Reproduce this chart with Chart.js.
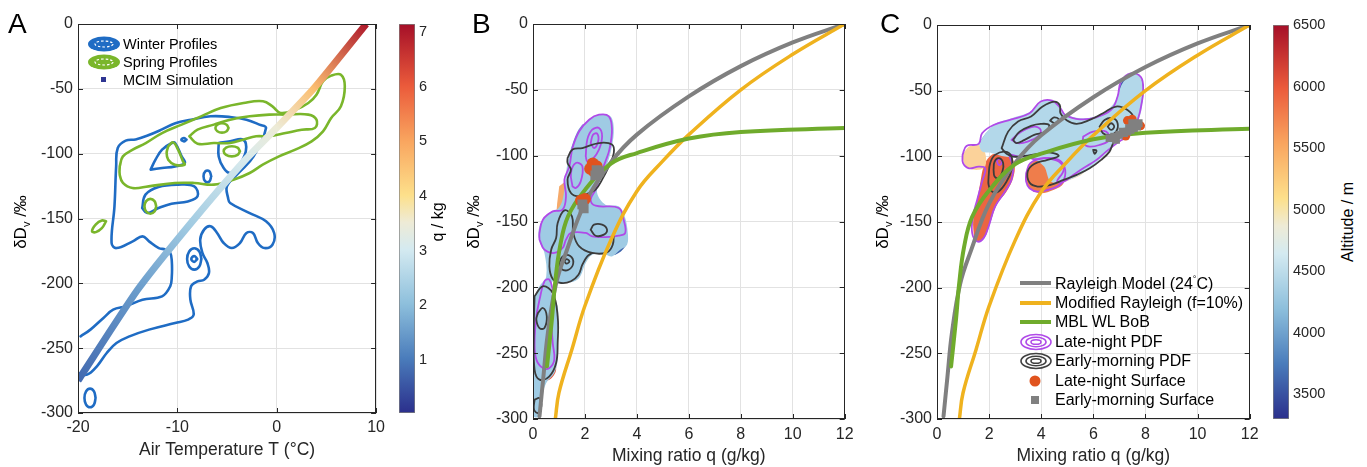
<!DOCTYPE html>
<html>
<head>
<meta charset="utf-8">
<script src="https://cdn.jsdelivr.net/npm/chart.js@4.4.1/dist/chart.umd.min.js"></script>
<style>
  body { margin: 0; width: 1367px; height: 467px; position: relative; overflow: hidden; background: #fff;
         font-family: "Liberation Sans", Arial, sans-serif; color: #000; }
  canvas { position: absolute; top: 0; }
  .lbl { position: absolute; white-space: nowrap; line-height: 1; }
  .rot { transform: translate(-50%, -50%) rotate(-90deg); }
  .letter { position: absolute; font-size: 28px; line-height: 1; }
  .leg { position: absolute; display: flex; align-items: center; white-space: nowrap; line-height: 1; }
  .leg svg { flex: none; }
  sub { font-size: 0.65em; vertical-align: -0.3em; }
</style>
</head>
<body>
<canvas id="chartA" style="left:0" width="390" height="467"></canvas>
<canvas id="cbarA" style="left:395px" width="45" height="467"></canvas>
<canvas id="chartB" style="left:440px" width="420" height="467"></canvas>
<canvas id="chartC" style="left:880px" width="385" height="467"></canvas>
<canvas id="cbarC" style="left:1265px" width="70" height="467"></canvas>

<div class="letter" style="left:8px;top:10px">A</div>
<div class="letter" style="left:472px;top:10px">B</div>
<div class="letter" style="left:880px;top:10px">C</div>

<div class="lbl rot" style="left:22px;top:222px;font-size:17px">δD<sub>v</sub> /‰</div>
<div class="lbl rot" style="left:475px;top:222px;font-size:17px">δD<sub>v</sub> /‰</div>
<div class="lbl rot" style="left:884px;top:222px;font-size:17px">δD<sub>v</sub> /‰</div>
<div class="lbl rot" style="left:438px;top:222px;font-size:16px">q / kg</div>
<div class="lbl rot" style="left:1348px;top:222px;font-size:16px">Altitude / m</div>

<!-- legend A -->
<div class="leg" style="left:87px;top:35px;height:18px;font-size:14.5px">
  <svg width="34" height="16"><ellipse cx="17" cy="8" rx="16" ry="7.5" fill="#1f6cc4"/><ellipse cx="17" cy="8" rx="9" ry="3" fill="none" stroke="#fff" stroke-width="1.2" stroke-dasharray="2.5 2"/></svg>
  <span style="margin-left:2px">Winter Profiles</span>
</div>
<div class="leg" style="left:87px;top:53px;height:18px;font-size:14.5px">
  <svg width="34" height="16"><ellipse cx="17" cy="8" rx="16" ry="7.5" fill="#7ab62b"/><ellipse cx="17" cy="8" rx="9" ry="3" fill="none" stroke="#fff" stroke-width="1.2" stroke-dasharray="2.5 2"/></svg>
  <span style="margin-left:2px">Spring Profiles</span>
</div>
<div class="leg" style="left:87px;top:71px;height:18px;font-size:14.5px">
  <svg width="34" height="16"><rect x="14" y="5" width="5" height="5" fill="#2e3592"/></svg>
  <span style="margin-left:2px">MCIM Simulation</span>
</div>

<!-- legend C -->
<div class="leg" style="left:1019px;top:273px;height:20px;font-size:16px">
  <svg width="34" height="10"><line x1="1" y1="5" x2="32" y2="5" stroke="#808080" stroke-width="4"/></svg>
  <span style="margin-left:2px">Rayleigh Model (24<span style="font-size:9px;vertical-align:7px">°</span>C)</span>
</div>
<div class="leg" style="left:1019px;top:293px;height:20px;font-size:16px">
  <svg width="34" height="10"><line x1="1" y1="5" x2="32" y2="5" stroke="#efb21e" stroke-width="4"/></svg>
  <span style="margin-left:2px">Modified Rayleigh (f=10%)</span>
</div>
<div class="leg" style="left:1019px;top:312px;height:20px;font-size:16px">
  <svg width="34" height="10"><line x1="1" y1="5" x2="32" y2="5" stroke="#6fab2c" stroke-width="4"/></svg>
  <span style="margin-left:2px">MBL WL BoB</span>
</div>
<div class="leg" style="left:1019px;top:332px;height:20px;font-size:16px">
  <svg width="34" height="18"><ellipse cx="17" cy="9" rx="15" ry="7.5" fill="none" stroke="#b04ae8" stroke-width="1.6"/><ellipse cx="17" cy="9" rx="10" ry="4.8" fill="none" stroke="#b04ae8" stroke-width="1.6"/><ellipse cx="17" cy="9" rx="5" ry="2.3" fill="none" stroke="#b04ae8" stroke-width="1.6"/></svg>
  <span style="margin-left:2px">Late-night PDF</span>
</div>
<div class="leg" style="left:1019px;top:351px;height:20px;font-size:16px">
  <svg width="34" height="18"><ellipse cx="17" cy="9" rx="15" ry="7.5" fill="none" stroke="#404040" stroke-width="1.6"/><ellipse cx="17" cy="9" rx="10" ry="4.8" fill="none" stroke="#404040" stroke-width="1.6"/><ellipse cx="17" cy="9" rx="5" ry="2.3" fill="none" stroke="#404040" stroke-width="1.6"/></svg>
  <span style="margin-left:2px">Early-morning PDF</span>
</div>
<div class="leg" style="left:1019px;top:371px;height:20px;font-size:16px">
  <svg width="34" height="14"><circle cx="16" cy="7" r="5.5" fill="#e0531e"/></svg>
  <span style="margin-left:2px">Late-night Surface</span>
</div>
<div class="leg" style="left:1019px;top:390px;height:20px;font-size:16px">
  <svg width="34" height="14"><rect x="12" y="3" width="8" height="8" fill="#808080"/></svg>
  <span style="margin-left:2px">Early-morning Surface</span>
</div>

<script>
// ---------- panel A: MCIM simulation line ----------
const mcimT = [-20, -14, -8.8, -3.2, 0, 3.7, 9];
const mcimD = [-275, -205, -155, -105, -80, -50, 0];
const mcimQ = [0.8, 1.5, 2.3, 3.1, 3.5, 4.6, 7.0];

// panel A colour bar (q / kg) and altitude colour bar of panel C
const qMin = 0.03, qMax = 7.15;
const qTicks = [1, 2, 3, 4, 5, 6, 7];
const altMin = 3300, altMax = 6500;
const altTicks = [3500, 4000, 4500, 5000, 5500, 6000, 6500];

// ---------- panel A: winter profile contours (T, dD) ----------
const winterOuter = [
  [-19.74, -240.9], [-18.75, -235.7], [-17.44, -226.7], [-16.46, -220.3], [-15.15, -217.7], [-13.51, -212.6],
  [-11.54, -210.0], [-10.72, -202.3], [-10.56, -194.6], [-10.56, -183.0], [-10.72, -176.6], [-11.21, -174.0],
  [-11.87, -172.8], [-12.85, -167.6], [-13.51, -163.8], [-14.49, -167.6], [-16.13, -172.8], [-16.62, -168.9],
  [-16.33, -140.6], [-16.16, -109.8], [-16.0, -95.6], [-15.2, -90.0], [-14.2, -89.0], [-13.0, -86.0],
  [-11.6, -81.5], [-10.2, -76.5], [-8.62, -73.8], [-6.66, -71.2], [-4.69, -71.7], [-3.05, -73.8],
  [-1.74, -77.6], [-1.08, -80.2], [-2.33, -102.1], [-3.84, -114.9], [-5.0, -125.0], [-4.9, -134.0],
  [-4.69, -138.0], [-2.72, -145.8], [-1.08, -152.2], [-0.26, -161.2], [-0.43, -170.2], [-1.25, -172.8],
  [-1.90, -168.9], [-2.39, -161.2], [-3.05, -161.2], [-3.70, -168.9], [-4.52, -172.8], [-5.34, -168.9],
  [-6.0, -161.2], [-6.66, -156.0], [-7.31, -158.6], [-7.70, -166.3], [-7.48, -176.6], [-6.98, -184.3],
  [-6.82, -192.0], [-7.31, -197.2], [-7.97, -198.5], [-8.62, -202.3], [-8.69, -212.6], [-8.36, -224.2],
  [-8.92, -228.0], [-10.23, -230.6], [-12.85, -235.7], [-14.82, -240.9], [-16.13, -246.0], [-17.11, -253.7],
  [-18.10, -264.0], [-19.08, -270.4], [-20, -269.2]
];
const winterLoops = [
  [[-7.58, -181.2], [-7.79, -175.4], [-8.30, -173.0], [-8.81, -175.4], [-9.02, -181.2], [-8.81, -187.0], [-8.30, -189.4], [-7.79, -187.0]],
  [[-8.0, -181.2], [-8.3, -178.9], [-8.6, -181.2], [-8.3, -183.5]],
  [[-13.54, -141.9], [-13.21, -131.6], [-11.90, -125.7], [-9.93, -123.9], [-8.30, -125.2], [-7.97, -132.9], [-8.95, -136.8], [-10.59, -138.6], [-11.90, -141.9], [-13.05, -145.8]],
  [[-12.69, -112.3], [-12.20, -104.6], [-11.54, -96.9], [-10.56, -91.8], [-10.23, -91.8], [-9.57, -102.1], [-9.25, -107.2], [-10.23, -109.8], [-11.54, -111.1]],
  [[-5.84, -91.8], [-4.69, -90.5], [-3.38, -89.2], [-3.11, -98.2], [-3.87, -109.8], [-4.69, -114.9], [-5.34, -111.1], [-5.84, -102.1]],
  [[-6.59, -117.5], [-6.78, -113.5], [-7.18, -113.5], [-7.37, -117.5], [-7.18, -121.5], [-6.78, -121.5]],
  [[-18.23, -288.4], [-18.39, -283.3], [-18.79, -281.2], [-19.19, -283.3], [-19.35, -288.4], [-19.19, -293.5], [-18.79, -295.6], [-18.39, -293.5]],
  [[-9.08, -89.2], [-9.34, -87.9], [-9.6, -89.2], [-9.34, -90.5]]
];

// ---------- panel A: spring profile contours ----------
const springLoops = [
  [[-15.80, -109.8], [-15.48, -102.1], [-14.49, -96.9], [-13.18, -91.8], [-11.54, -84.1], [-9.57, -77.6], [-7.61, -71.2],
   [-5.64, -64.8], [-3.34, -60.9], [-1.38, -59.6], [-0.43, -63.5], [0.39, -68.6], [1.87, -66.1], [3.18, -60.9], [4.0, -54.5],
   [4.66, -44.2], [5.48, -39.8], [6.46, -39.1], [6.85, -48.1], [6.46, -63.5], [5.48, -72.5], [4.66, -82.8], [3.51, -90.5],
   [1.87, -96.9], [0.23, -102.1], [-1.41, -108.5], [-2.72, -114.9], [-4.36, -120.1], [-6.33, -123.9], [-8.30, -122.6],
   [-10.26, -122.6], [-12.89, -125.2], [-14.52, -126.5], [-15.48, -122.6], [-15.80, -116.2]],
  [[-8.79, -86.6], [-7.97, -81.5], [-6.33, -77.6], [-4.69, -73.8], [-2.72, -71.2], [-0.75, -69.9], [0.89, -69.9], [3.18, -69.9],
   [4.0, -73.8], [3.84, -80.2], [2.52, -81.5], [0.89, -84.1], [-0.75, -86.6], [-2.07, -86.6], [-3.38, -89.2], [-4.69, -91.8],
   [-6.33, -91.8], [-7.97, -92.3]],
  [[-4.85, -80.2], [-5.04, -77.7], [-5.51, -76.6], [-5.98, -77.7], [-6.17, -80.2], [-5.98, -82.7], [-5.51, -83.8], [-5.04, -82.7]],
  [[-3.70, -98.2], [-3.94, -95.4], [-4.52, -94.3], [-5.10, -95.4], [-5.34, -98.2], [-5.10, -101.0], [-4.52, -102.1], [-3.94, -101.0]],
  [[-10.92, -94.3], [-10.43, -91.3], [-9.93, -96.9], [-9.44, -105.9], [-9.28, -108.5], [-10.26, -108.5], [-10.92, -104.6], [-11.08, -99.5]],
  [[-12.13, -140.6], [-12.30, -136.6], [-12.72, -134.9], [-13.14, -136.6], [-13.31, -140.6], [-13.14, -144.6], [-12.72, -146.3], [-12.30, -144.6]],
  [[-17.18, -152.2], [-17.6, -151.5], [-18.2, -154.5], [-18.59, -159.9], [-18.2, -160.5], [-17.6, -157.5]]
];

// ---------- panels B and C: model curves (q g/kg, dD) ----------
const rayleighQ = [0.25, 0.4, 0.57, 0.89, 1.3, 2, 3, 4, 6, 8, 10, 12];
const rayleighD = [-298, -268, -235, -197, -172, -136, -105, -84, -55, -32, -14, 0];
const modifiedQ = [0.86, 1, 1.5, 2, 3, 4, 5, 6, 8, 10, 12];
const modifiedD = [-300, -280, -247, -214, -164, -127, -104, -84, -50, -23, 0];
const mblQ = [0.54, 0.73, 0.85, 1.04, 1.35, 2, 3, 4, 6, 8, 12];
const mblD = [-260, -224, -197, -169, -146, -126, -106, -98, -87, -82, -79];

// ---------- panel B: PDF areas (filled by altitude colour) ----------
const blobsB = [
  ['#9fcbe4', [[2.22, -71.4], [2.54, -68.9], [2.98, -70.1], [3.11, -79.0], [3.04, -92.9], [2.85, -106.8], [2.60, -118.2], [2.47, -128.4],
    [2.79, -137.2], [3.30, -138.5], [3.53, -146.1], [3.65, -158.7], [3.62, -167.6], [3.36, -171.4], [3.04, -176.5], [2.79, -175.2],
    [2.28, -175.2], [2.03, -181.5], [1.78, -192.9], [1.46, -196.2], [1.08, -196.7], [0.76, -195.4], [0.70, -204.3], [0.95, -214.4],
    [0.95, -234.7], [0.95, -254.9], [0.82, -265.1], [0.51, -272.7], [0.32, -285.3], [0.25, -298.0], [0.03, -298.0], [0.04, -260.0],
    [0.04, -209.4], [0.25, -199.2], [0.51, -191.6], [0.44, -173.9], [0.23, -163.8], [0.25, -153.7], [0.57, -144.8], [0.95, -140.5],
    [1.14, -133.4], [1.24, -119.5], [1.33, -105.6], [1.52, -92.9], [1.90, -77.7]]],
  ['#6c9dcf', [[1.45, -95], [1.7, -82], [1.95, -76], [1.85, -90], [1.6, -100], [1.45, -105]]],
  ['#4f80c1', [[2.41, -70.1], [2.85, -69.6], [3.04, -76.5], [2.98, -87.8], [2.79, -92.9], [2.54, -87.8], [2.35, -80.3]]],
  ['#3d63ab', [[2.85, -158.7], [3.30, -156.2], [3.62, -160.0], [3.55, -168.9], [3.17, -175.2], [2.92, -173.9]]],
  ['#5d8fc6', [[0.25, -156.2], [0.51, -146.1], [0.82, -142.3], [0.76, -153.7], [0.51, -163.8], [0.25, -163.8]]],
  ['#f3e0ae', [[1.46, -156.2], [1.78, -148.6], [2.28, -151.1], [2.54, -163.8], [2.28, -173.9], [1.90, -184.1], [1.52, -191.6],
    [1.14, -194.2], [1.01, -184.1], [1.21, -171.4]]],
  ['#f5a96a', [[1.01, -123.3], [1.21, -120.8], [1.27, -133.4], [1.14, -146.1], [1.01, -158.7], [0.89, -156.2], [0.91, -141.0]]],
  ['#f8d6ad', [[1.46, -113.2], [1.78, -109.4], [2.03, -118.2], [1.78, -125.8], [1.52, -127.1]]],
  ['#f6c48c', [[0.06, -234.7], [0.51, -232.2], [0.82, -237.2], [0.82, -249.9], [0.13, -249.9]]],
  ['#e8573a', [[0.13, -249.9], [0.38, -244.8], [0.76, -249.9], [0.89, -262.5], [0.63, -270.1], [0.25, -270.1], [0.06, -262.5]]],
  ['#f6b27a', [[0.06, -280.3], [0.25, -277.7], [0.32, -292.9], [0.19, -298.0], [0.04, -295.4]]]
];
const lateNightB = [
  [[0.25, -163.8], [0.25, -158.7], [0.38, -148.6], [0.76, -142.3], [1.14, -141.0], [1.27, -130.9], [1.21, -118.2], [1.40, -108.1],
   [1.52, -94.2], [1.78, -81.5], [2.16, -72.7], [2.54, -68.9], [2.92, -70.1], [3.04, -80.3], [2.94, -95.4], [2.79, -104.3],
   [2.60, -114.4], [2.41, -125.8], [2.22, -133.4], [2.41, -138.0], [3.30, -139.7], [3.49, -148.6], [3.55, -158.7], [3.30, -160.8],
   [2.79, -161.8], [2.28, -161.3], [2.03, -158.7], [1.46, -158.7], [1.27, -163.8], [1.14, -170.1], [0.82, -173.9], [0.44, -171.4]],
  [[2.03, -100.5], [2.09, -87.8], [2.28, -80.3], [2.54, -79.0], [2.66, -85.3], [2.54, -95.4], [2.28, -103.0], [2.09, -104.3]],
  [[2.22, -90.4], [2.31, -84.1], [2.47, -83.3], [2.51, -89.1], [2.35, -94.2]],
  [[1.52, -123.3], [1.46, -113.2], [1.65, -105.6], [1.90, -108.1], [1.84, -119.5], [1.65, -124.6]],
  [[0.25, -209.4], [0.44, -195.4], [0.63, -194.2], [0.76, -204.3], [0.70, -222.0], [0.76, -242.3], [0.82, -254.9], [0.63, -261.3],
   [0.38, -261.3], [0.13, -254.9], [0.06, -242.3], [0.13, -222.0]]
];
const earlyMorningB = [
  [[1.33, -101.8], [1.52, -95.4], [1.90, -94.2], [2.54, -90.4], [3.04, -91.6], [3.11, -98.0], [2.92, -108.1], [2.66, -118.2],
   [2.41, -125.8], [2.16, -128.4], [1.78, -130.9], [1.46, -128.4], [1.33, -118.2], [1.46, -110.6], [1.33, -105.6]],
  [[2.28, -173.9], [2.09, -176.5], [1.90, -182.8], [1.75, -190.4], [1.46, -195.4], [1.08, -196.7], [0.76, -193.7], [0.63, -184.1],
   [0.70, -171.4], [0.89, -162.5], [0.95, -151.1], [1.21, -141.5], [1.50, -146.1], [1.55, -158.7], [1.78, -168.9], [2.28, -173.9],
   [2.85, -173.4], [3.07, -167.6], [3.11, -158.7]],
  [[1.01, -181.5], [1.14, -176.5], [1.42, -176.0], [1.55, -181.5], [1.37, -186.6], [1.09, -186.1]],
  [[1.21, -180.3], [1.29, -178.5], [1.40, -180.3], [1.29, -182.0]],
  [[2.22, -156.2], [2.35, -152.4], [2.66, -152.4], [2.85, -156.2], [2.73, -160.0], [2.41, -160.8]],
  [[0.06, -206.8], [0.38, -199.2], [0.76, -204.3], [0.95, -222.0], [0.95, -242.3], [0.89, -257.5], [0.63, -267.6], [0.25, -270.1],
   [0.06, -262.5], [0.03, -234.7]],
  [[0.19, -219.5], [0.38, -215.7], [0.53, -222.0], [0.44, -230.9], [0.25, -230.9], [0.13, -224.6]],
  [[0.06, -285.3], [0.25, -284.1], [0.32, -290.4], [0.19, -295.4], [0.04, -292.9]]
];
const lateNightSurfaceB = [[2.3, -106], [2.45, -108], [2.35, -112], [2.2, -110], [1.85, -134], [2.0, -133]];
const earlyMorningSurfaceB = [[2.45, -111], [2.55, -112], [2.4, -115], [1.9, -137], [1.95, -140]];

// ---------- panel C ----------
const blobsC = [
  ['#b3d8ea', [[1.60, -90.0], [2.17, -76.1], [2.86, -71.0], [3.61, -65.9], [4.05, -58.3], [4.49, -58.3], [4.86, -67.2], [5.61, -71.0],
    [6.37, -67.2], [6.87, -57.1], [7.12, -44.4], [7.56, -36.8], [7.87, -43.1], [7.87, -62.1], [7.68, -74.8], [7.37, -85.0], [6.87, -90.0],
    [6.37, -100.2], [5.86, -109.1], [5.36, -115.4], [4.86, -119.2], [4.36, -119.2], [4.11, -107.8], [3.73, -102.7], [3.11, -101.4],
    [2.61, -100.2], [2.11, -97.6], [1.73, -96.4]]],
  ['#7fb3d8', [[1.60, -90.0], [1.98, -80.4], [2.61, -73.8], [3.11, -72.3], [2.86, -82.4], [2.23, -90.5]]],
  ['#3a5fab', [[6.99, -57.1], [7.06, -44.4], [7.49, -37.3], [7.87, -43.1], [7.87, -59.6], [7.74, -67.2], [7.37, -72.3], [6.99, -67.2]]],
  ['#3f70b6', [[6.12, -74.8], [6.49, -68.5], [6.87, -68.5], [7.18, -76.1], [6.93, -85.0], [6.43, -87.0], [6.14, -82.4]]],
  ['#fbd29a', [[0.98, -98.9], [1.23, -92.6], [1.60, -91.3], [1.85, -97.6], [1.85, -107.8], [1.60, -110.3], [1.23, -109.1], [1.04, -105.2]]],
  ['#f6d9a5', [[4.61, -102.7], [5.36, -100.2], [5.86, -103.2], [5.61, -112.9], [5.11, -117.9], [4.86, -119.2], [4.92, -110.3]]],
  ['#ef7d4b', [[3.42, -112.9], [3.61, -105.2], [4.11, -101.4], [4.61, -102.7], [4.92, -110.3], [4.86, -120.5], [4.49, -125.5],
    [3.98, -128.1], [3.61, -125.5], [3.42, -119.2]]],
  ['#ec6541', [[1.42, -162.3], [1.60, -164.8], [1.85, -161.0], [2.04, -150.9], [2.29, -136.9], [2.67, -126.8], [2.92, -116.7],
    [2.98, -106.5], [2.79, -98.9], [2.42, -97.1], [2.04, -99.7], [1.79, -107.8], [1.67, -119.2], [1.54, -133.2], [1.39, -148.4]]],
  ['#f3925a', [[1.45, -160], [1.6, -140], [1.9, -128], [2.1, -135], [1.9, -150], [1.7, -162]]]
];
const lateNightC = [
  [[0.98, -98.9], [1.13, -92.1], [1.60, -90.5], [1.73, -82.4], [2.17, -76.1], [2.86, -71.8], [3.55, -67.2], [3.98, -58.3], [4.42, -57.6],
   [4.74, -63.4], [4.92, -68.5], [5.49, -71.8], [6.12, -70.3], [6.68, -64.7], [6.93, -54.5], [7.06, -43.1], [7.43, -36.8], [7.83, -39.8],
   [7.91, -50.7], [7.84, -60.9], [7.74, -69.7], [7.49, -82.4], [6.99, -88.8], [6.49, -96.4], [6.12, -102.7], [5.61, -109.1],
   [5.24, -114.1], [4.86, -119.2], [4.61, -119.2], [4.86, -110.3], [4.67, -104.0], [4.17, -101.4], [3.73, -102.2], [3.48, -100.2],
   [3.11, -100.2], [2.79, -98.9], [2.92, -107.8], [2.86, -117.9], [2.61, -126.8], [2.23, -138.2], [1.98, -153.4], [1.79, -162.3],
   [1.54, -164.8], [1.35, -158.5], [1.38, -145.8], [1.54, -133.2], [1.73, -119.2], [1.85, -109.1], [1.60, -107.8], [1.23, -109.1],
   [1.00, -105.2]],
  [[3.42, -112.9], [3.58, -105.2], [4.11, -101.4], [4.67, -102.7], [4.92, -110.3], [4.80, -120.0], [4.36, -125.0], [3.86, -126.8],
   [3.55, -124.3], [3.42, -119.2]],
  [[2.86, -87.5], [3.23, -81.2], [3.73, -77.4], [3.98, -79.9], [3.86, -85.0], [3.48, -88.8], [3.11, -90.0]],
  [[2.29, -102.7], [2.42, -102.2], [2.48, -105.2], [2.36, -106.5]],
  [[5.61, -85.0], [5.99, -81.2], [6.49, -81.2], [6.62, -87.5], [6.24, -91.3], [5.86, -92.6], [5.61, -90.0]]
];
const earlyMorningC = [
  [[2.48, -93.8], [2.73, -81.2], [3.11, -73.5], [3.61, -69.7], [4.05, -62.1], [4.49, -58.3], [4.71, -60.9], [4.74, -67.2],
   [4.99, -72.8], [5.36, -75.3], [5.86, -72.3], [6.37, -67.2], [6.87, -62.1], [7.31, -64.7], [7.56, -71.0], [7.49, -78.6],
   [7.18, -83.7], [6.80, -88.8], [6.62, -96.4], [6.30, -102.7], [5.86, -109.1], [5.36, -114.1], [4.86, -117.9], [4.36, -121.7],
   [3.86, -123.0], [3.55, -120.0], [3.48, -111.6], [3.73, -105.8], [4.24, -102.7], [4.67, -99.7], [4.36, -97.1], [3.86, -98.1],
   [3.36, -99.7], [2.92, -100.2], [2.67, -98.1]],
  [[1.98, -115.4], [2.04, -105.2], [2.23, -98.9], [2.61, -96.4], [2.86, -100.2], [2.86, -110.3], [2.67, -119.2], [2.36, -126.8],
   [2.11, -126.8], [1.98, -121.7]],
  [[2.17, -110.3], [2.21, -104.0], [2.38, -101.4], [2.54, -105.2], [2.51, -111.6], [2.36, -116.7], [2.21, -115.4]],
  [[2.92, -87.5], [3.17, -81.2], [3.61, -76.8], [3.98, -75.3], [4.30, -76.1], [4.17, -81.2], [3.73, -83.7], [3.36, -87.5], [3.05, -90.0]],
  [[4.34, -72.8], [4.49, -70.3], [4.67, -71.8], [4.55, -74.8]],
  [[6.24, -77.4], [6.43, -72.3], [6.74, -71.0], [6.93, -74.8], [6.87, -81.2], [6.62, -83.7], [6.37, -82.4]],
  [[6.55, -77.4], [6.68, -74.8], [6.80, -77.4], [6.68, -79.9]],
  [[5.99, -95.1], [6.12, -95.6], [6.05, -98.1]]
];
const lateNightSurfaceC = [[7.31, -72.8], [7.81, -76.8], [7.24, -84.5], [7.49, -71.8]];
const earlyMorningSurfaceC = [[6.62, -86.2], [6.80, -85.0], [6.99, -83.7], [7.18, -82.4], [7.31, -81.2], [7.43, -79.9], [7.56, -78.6],
  [7.68, -77.4], [7.74, -74.8], [7.49, -74.8], [7.37, -78.6], [7.12, -81.2], [6.87, -87.5]];

// ---------- styling helpers ----------
const cmapStops = [
  [0, '#2b2f8c'], [0.07, '#3a55a3'], [0.14, '#4a7cbb'], [0.28, '#8dbfdc'], [0.42, '#d4eaf1'], [0.49, '#eeebd6'],
  [0.56, '#fde08b'], [0.70, '#f9a55f'], [0.84, '#eb5b3b'], [1, '#a50f28']
];
function hexRgb(h) { return [1, 3, 5].map(i => parseInt(h.slice(i, i + 2), 16)); }
function cmapColor(f) {
  f = Math.min(1, Math.max(0, f));
  for (let i = 1; i < cmapStops.length; i++) {
    if (f <= cmapStops[i][0]) {
      const [f0, c0] = cmapStops[i - 1], [f1, c1] = cmapStops[i];
      const t = (f - f0) / (f1 - f0), a = hexRgb(c0), b = hexRgb(c1);
      return 'rgb(' + a.map((v, k) => Math.round(v + (b[k] - v) * t)).join(',') + ')';
    }
  }
  return cmapStops[cmapStops.length - 1][1];
}

Chart.defaults.font.family = '"Liberation Sans", Arial, sans-serif';
Chart.defaults.color = '#262626';

const xy = arr => arr.map(([x, y]) => ({ x, y }));
const closeLoop = arr => arr.concat([arr[0]]);
const zipXY = (xs, ys) => xs.map((x, i) => ({ x, y: ys[i] }));

function lineDs(points, color, width, order, tension = 0.4) {
  return { data: points, showLine: true, borderColor: color, borderWidth: width, pointRadius: 0,
           tension, fill: false, order, borderCapStyle: 'round', borderJoinStyle: 'round' };
}
function blobDs(color, poly) {
  return { data: xy(closeLoop(poly)), showLine: true, borderColor: 'rgba(0,0,0,0)', borderWidth: 1,
           pointRadius: 0, tension: 0.35, fill: false, order: 60, blob: true, blobColor: color };
}
function markerDs(points, color, style, radius, order) {
  return { data: xy(points), showLine: false, pointStyle: style, pointRadius: radius,
           backgroundColor: color, borderWidth: 0, order };
}

// fills each PDF area along the path of its own line element
const blobFill = {
  id: 'blobFill',
  beforeDatasetDraw(chart, args) {
    const ds = chart.data.datasets[args.index];
    if (!ds.blob) return;
    const line = args.meta.dataset;
    const a = chart.chartArea, ctx = chart.ctx;
    line.updateControlPoints(a, 'x');
    ctx.save();
    ctx.beginPath();
    ctx.rect(a.left, a.top, a.right - a.left, a.bottom - a.top);
    ctx.clip();
    ctx.beginPath();
    line.path(ctx);
    ctx.closePath();
    ctx.fillStyle = ds.blobColor;
    ctx.fill();
    ctx.restore();
  }
};

// axes box with inward ticks, like the original figure
const boxPlugin = {
  id: 'box',
  afterDatasetsDraw(chart) {
    const { ctx, chartArea: a, scales } = chart;
    ctx.save();
    ctx.strokeStyle = '#262626';
    ctx.lineWidth = 1;
    ctx.beginPath();
    scales.x.ticks.forEach(t => {
      const p = Math.round(scales.x.getPixelForValue(t.value)) + 0.5;
      ctx.moveTo(p, a.bottom); ctx.lineTo(p, a.bottom - 5);
      ctx.moveTo(p, a.top); ctx.lineTo(p, a.top + 5);
    });
    scales.y.ticks.forEach(t => {
      const p = Math.round(scales.y.getPixelForValue(t.value)) + 0.5;
      ctx.moveTo(a.left, p); ctx.lineTo(a.left + 5, p);
      ctx.moveTo(a.right, p); ctx.lineTo(a.right - 5, p);
    });
    ctx.stroke();
    ctx.strokeRect(Math.round(a.left) + 0.5, Math.round(a.top) + 0.5,
                   Math.round(a.right - a.left) - 1, Math.round(a.bottom - a.top) - 1);
    ctx.restore();
  }
};

function scalesFor(o) {
  return {
    x: {
      type: 'linear', min: o.xmin, max: o.xmax,
      ticks: { stepSize: o.xstep, padding: o.xpad, font: { size: 16 } },
      grid: { color: '#e2e2e2', drawTicks: false },
      border: { display: false },
      title: { display: true, text: o.xtitle, font: { size: 17.5 }, padding: { top: 0, bottom: o.tpad } },
      afterFit: s => { s.height = o.xh; }
    },
    y: {
      type: 'linear', min: -300, max: 0,
      ticks: { stepSize: 50, padding: 5, font: { size: 16 } },
      grid: { color: '#e2e2e2', drawTicks: false },
      border: { display: false },
      afterFit: s => { s.width = o.yw; }
    }
  };
}

function baseOptions(pad, scales) {
  return {
    responsive: false, animation: false, events: [],
    layout: { padding: pad },
    plugins: { legend: { display: false }, tooltip: { enabled: false } },
    scales
  };
}

// ---------- chart A ----------
const dsA = [];
dsA.push(lineDs(xy(winterOuter), '#1f6cc4', 2.6, 20));
winterLoops.forEach(l => dsA.push(lineDs(xy(closeLoop(l)), '#1f6cc4', 2.6, 20)));
springLoops.forEach(l => dsA.push(lineDs(xy(closeLoop(l)), '#7ab62b', 2.6, 15)));
dsA.push({
  data: zipXY(mcimT, mcimD), showLine: true, borderWidth: 7, pointRadius: 0, tension: 0.2, fill: false, order: 1,
  borderJoinStyle: 'round',
  borderColor: c => {
    const ch = c.chart;
    if (!ch.chartArea) return cmapColor(0.5);
    const xs = ch.scales.x, ys = ch.scales.y;
    const px = mcimT.map(v => xs.getPixelForValue(v)), py = mcimD.map(v => ys.getPixelForValue(v));
    const n = px.length - 1, dx = px[n] - px[0], dy = py[n] - py[0], L2 = dx * dx + dy * dy;
    const g = ch.ctx.createLinearGradient(px[0], py[0], px[n], py[n]);
    mcimQ.forEach((q, i) => {
      const f = ((px[i] - px[0]) * dx + (py[i] - py[0]) * dy) / L2;
      g.addColorStop(Math.min(1, Math.max(0, f)), cmapColor((q - qMin) / (qMax - qMin)));
    });
    return g;
  }
});

new Chart(document.getElementById('chartA'), {
  type: 'scatter',
  data: { datasets: dsA },
  options: baseOptions({ left: 0, top: 24, right: 7, bottom: 0 },
    scalesFor({ xmin: -20, xmax: 10, xstep: 10, xtitle: 'Air Temperature T (°C)', xpad: 5, tpad: 6.5, xh: 54, yw: 78 })),
  plugins: [boxPlugin]
});

// ---------- charts B and C ----------
function modelLines() {
  return [
    lineDs(zipXY(rayleighQ, rayleighD), '#808080', 4, 12),
    lineDs(zipXY(modifiedQ, modifiedD), '#efb21e', 3.5, 11),
    lineDs(zipXY(mblQ, mblD), '#6fab2c', 4, 10)
  ];
}

const dsB = [];
blobsB.forEach(([c, p]) => dsB.push(blobDs(c, p)));
lateNightB.forEach(l => dsB.push(lineDs(xy(closeLoop(l)), '#b04ae8', 1.8, 30)));
earlyMorningB.forEach((l, i) => dsB.push(lineDs(xy(i === 1 ? l : closeLoop(l)), '#3c3c3c', 1.8, 29)));
modelLines().forEach(d => dsB.push(d));
dsB.push(markerDs(lateNightSurfaceB, '#e0531e', 'circle', 6, 3));
dsB.push(markerDs(earlyMorningSurfaceB, '#808080', 'rect', 7, 2));

new Chart(document.getElementById('chartB'), {
  type: 'scatter',
  data: { datasets: dsB },
  options: baseOptions({ left: 0, top: 24, right: 11, bottom: 0 },
    scalesFor({ xmin: 0, xmax: 12, xstep: 2, xtitle: 'Mixing ratio q (g/kg)', xpad: 6.4, tpad: 0.5, xh: 48, yw: 93 })),
  plugins: [blobFill, boxPlugin]
});

const dsC = [];
blobsC.forEach(([c, p]) => dsC.push(blobDs(c, p)));
lateNightC.forEach(l => dsC.push(lineDs(xy(closeLoop(l)), '#b04ae8', 1.8, 30)));
earlyMorningC.forEach(l => dsC.push(lineDs(xy(closeLoop(l)), '#3c3c3c', 1.8, 29)));
modelLines().forEach(d => dsC.push(d));
dsC.push(markerDs(lateNightSurfaceC, '#e0531e', 'circle', 4.5, 3));
dsC.push(markerDs(earlyMorningSurfaceC, '#808080', 'rect', 5.5, 2));

new Chart(document.getElementById('chartC'), {
  type: 'scatter',
  data: { datasets: dsC },
  options: baseOptions({ left: 0, top: 25, right: 8, bottom: 0 },
    scalesFor({ xmin: 0, xmax: 12, xstep: 2, xtitle: 'Mixing ratio q (g/kg)', xpad: 6.4, tpad: 0.5, xh: 48, yw: 57 })),
  plugins: [blobFill, boxPlugin]
});

// ---------- colour bars ----------
function colorbar(id, vmin, vmax, tickVals, padLeft, axisW, top, bottom) {
  new Chart(document.getElementById(id), {
    type: 'bar',
    data: {
      labels: [''],
      datasets: [{
        data: [[vmin, vmax]],
        backgroundColor: c => {
          const ch = c.chart, a = ch.chartArea;
          if (!a) return '#999';
          const g = ch.ctx.createLinearGradient(0, a.bottom, 0, a.top);
          cmapStops.forEach(([f, col]) => g.addColorStop(f, col));
          return g;
        },
        borderColor: '#7f7f7f', borderWidth: 1, borderSkipped: false,
        barPercentage: 1, categoryPercentage: 1
      }]
    },
    options: {
      responsive: false, animation: false, events: [],
      layout: { padding: { left: padLeft, top, bottom, right: 0 } },
      plugins: { legend: { display: false }, tooltip: { enabled: false } },
      scales: {
        x: { display: false },
        y: {
          position: 'right', min: vmin, max: vmax,
          afterBuildTicks: s => { s.ticks = tickVals.map(v => ({ value: v })); },
          ticks: { padding: 4, font: { size: 14.5 }, callback: v => String(v) },
          grid: { display: false, drawTicks: false },
          border: { display: false },
          afterFit: s => { s.width = axisW; }
        }
      }
    }
  });
}
colorbar('cbarA', qMin, qMax, qTicks, 4, 25, 24, 54);
colorbar('cbarC', altMin, altMax, altTicks, 8, 46, 25, 48);
</script>
</body>
</html>
